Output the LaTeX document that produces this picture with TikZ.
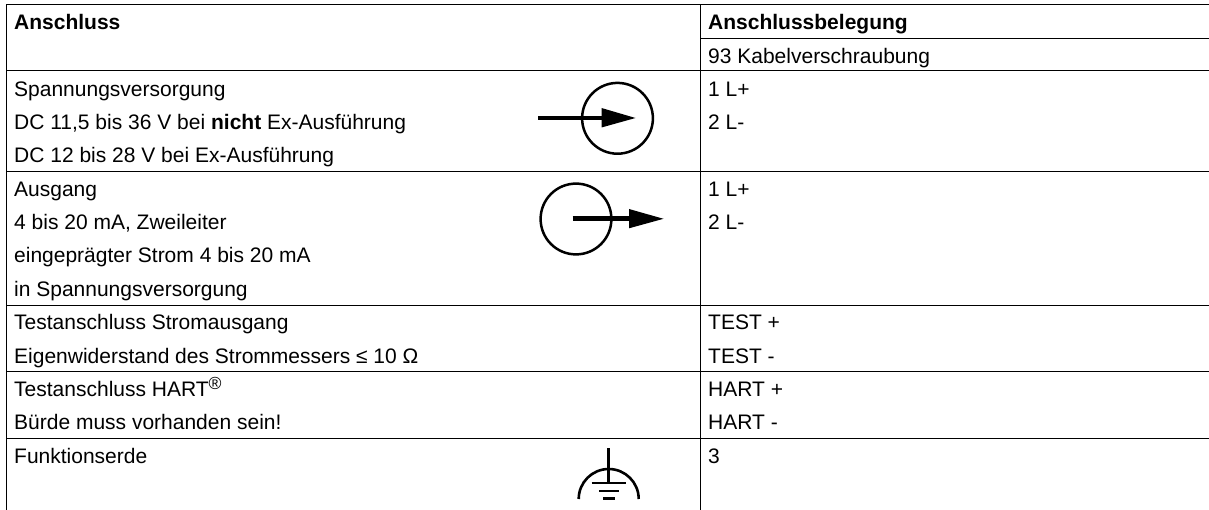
\documentclass[tikz,border=0pt]{standalone}
\usepackage{fontspec}
\setmainfont{Liberation Sans}
\begin{document}
\begin{tikzpicture}[x=1pt,y=-1pt,line cap=butt,
  rule/.style={line width=1pt,black},
  sym/.style={line width=2.5pt,black},
  shaft/.style={line width=4.6pt,black},
  earth/.style={line width=2.6pt,black},
  txt/.style={anchor=base west,inner sep=0pt,yshift=-1.5pt,font=\fontsize{21}{24}\selectfont,text=black}]
\useasboundingbox (0,0) rectangle (1209,510);
\draw[rule] (6.5,510) -- (6.5,4.5) -- (1209,4.5);
\draw[rule] (700.5,4.5) -- (700.5,510);
\draw[rule] (700.5,38.3) -- (1209,38.3);
\foreach \y in {71,171.6,305.2,371.5,438.3} \draw[rule] (6.5,\y) -- (1209,\y);
% left column
\node[txt] (a1) at (14,28) {\textbf{Anschluss}};
\node[txt] (a2) at (14,95) {Spannungsversorgung};
\node[txt] (a3) at (14,128) {DC 11,5 bis 36 V bei \textbf{nicht} Ex-Ausführung};
\node[txt] (a4) at (14,161) {DC 12 bis 28 V bei Ex-Ausführung};
\node[txt] (a5) at (14,195) {Ausgang};
\node[txt] (a6) at (14,228) {4 bis 20 mA, Zweileiter};
\node[txt] (a7) at (14,261) {eingeprägter Strom 4 bis 20 mA};
\node[txt] (a8) at (14,295) {in Spannungsversorgung};
\node[txt] (a9) at (14,328) {Testanschluss Stromausgang};
\node[txt] (a10) at (14,362) {Eigenwiderstand des Strommessers ≤ 10 Ω};
\node[txt] (a11) at (14,395) {Testanschluss HART\raisebox{7pt}{\fontsize{17.5}{18}\selectfont ®}};
\node[txt] (a12) at (14,428) {Bürde muss vorhanden sein!};
\node[txt] (a13) at (14,462) {Funktionserde};
% right column
\node[txt] (b1) at (708,28) {\textbf{Anschlussbelegung}};
\node[txt] (b2) at (708,62) {93 Kabelverschraubung};
\node[txt] (b3) at (708,95) {1 L+};
\node[txt] (b4) at (708,128) {2 L-};
\node[txt] (b5) at (708,195) {1 L+};
\node[txt] (b6) at (708,228) {2 L-};
\node[txt] (b7) at (708,328) {TEST +};
\node[txt] (b8) at (708,362) {TEST -};
\node[txt] (b9) at (708,395) {HART +};
\node[txt] (b10) at (708,428) {HART -};
\node[txt] (b11) at (708,462) {3};
% symbol 1
\draw[sym] (617.5,118.3) circle (35.4);
\draw[shaft] (538.3,118) -- (605,118);
\fill (601.5,108) -- (635.5,118) -- (601.5,127.5) -- cycle;
% symbol 2
\draw[sym] (576,219) circle (35.4);
\draw[shaft] (572.7,218.8) -- (632,218.8);
\fill (629,209) -- (663.5,218.8) -- (629,228.3) -- cycle;
% earth symbol
\draw[earth] (608.7,448) -- (608.7,483);
\draw[earth] (578.7,499) arc[start angle=180,end angle=360,radius=30];
\draw[earth] (591.7,483) -- (626,483);
\draw[earth] (599,490.8) -- (619,490.8);
\draw[earth] (603,498.7) -- (615,498.7);
\end{tikzpicture}
\end{document}
